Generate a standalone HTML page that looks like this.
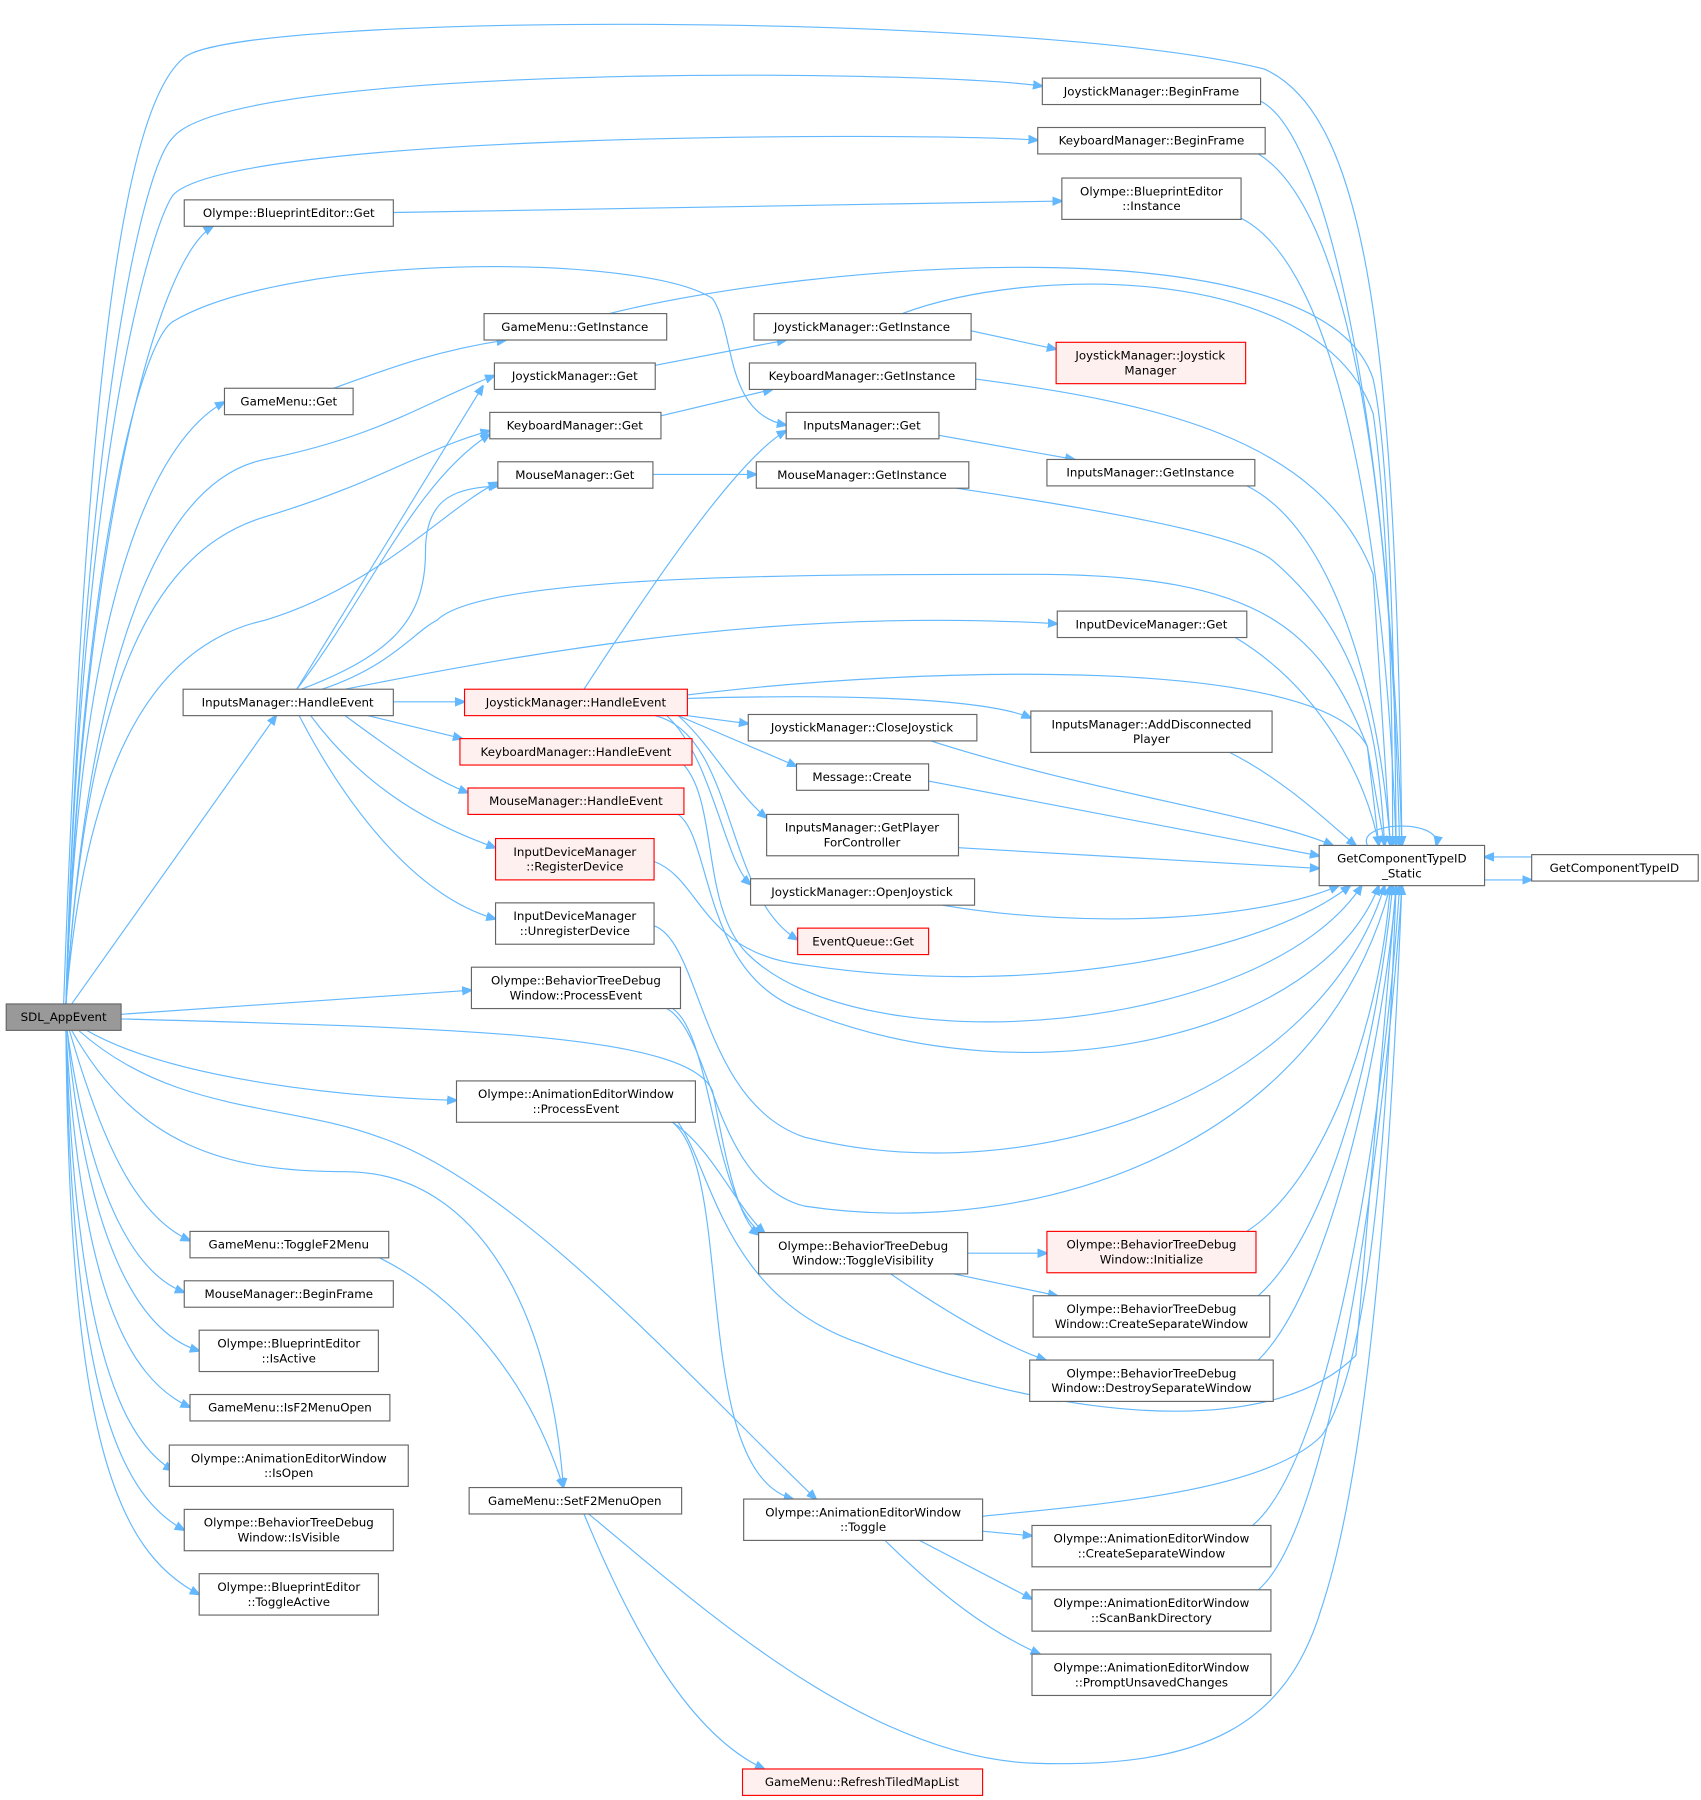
<!DOCTYPE html>
<html><head><meta charset="utf-8"><style>
html,body{margin:0;padding:0;background:#fff;}
svg{display:block;}
text{font-family:"DejaVu Sans","Liberation Sans",sans-serif;font-size:10.3px;fill:#000;text-anchor:middle;}
.n{fill:#fff;stroke:#666;stroke-width:1;}
.r{fill:#fff0f0;stroke:#f00;stroke-width:1;}
.g{fill:#999;stroke:#666;stroke-width:1;}
path{fill:none;stroke:#63b8ff;stroke-width:1;}
</style></head><body>
<svg width="1701" height="1800" viewBox="0 0 1480 1567" xmlns="http://www.w3.org/2000/svg">
<defs><marker id="a" viewBox="0 0 10 10" refX="9" refY="5" markerWidth="9" markerHeight="9" orient="auto" markerUnits="userSpaceOnUse"><path d="M0,1 L10,5 L0,9 z" style="fill:#63b8ff;stroke:#63b8ff"/></marker></defs>
<g marker-end="url(#a)">
<path d="M55,874 C75,300 110,90 160,50 S900,10 1100,60 C1190,100 1215,300 1220,736"/>
<path d="M57,874 C70,400 120,150 150,120 C200,55 800,60 907,75"/>
<path d="M57,874 C70,400 130,200 150,170 C200,115 800,115 903,122"/>
<path d="M57,874 C70,500 130,230 185,197"/>
<path d="M57,874 C70,500 120,300 150,280 C250,220 560,220 620,260 C640,290 630,360 684,370"/>
<path d="M57,874 C70,500 140,380 195,350"/>
<path d="M57,874 C75,600 130,420 230,400 C330,380 370,350 430,327"/>
<path d="M57,874 C75,600 130,480 230,450 C330,420 370,390 426,375"/>
<path d="M57,874 C75,650 140,560 230,540 C330,510 390,440 433,420"/>
<path d="M62,874 L240,623"/>
<path d="M105,883 L410,862"/>
<path d="M105,887 C400,895 600,900 620,950 C630,1000 640,1060 660,1075"/>
<path d="M75,897 C150,940 300,955 397,958"/>
<path d="M68,897 C150,970 250,960 330,990 C450,1030 600,1200 710,1305"/>
<path d="M62,897 C120,1000 200,1020 300,1020 C420,1020 480,1150 490,1295"/>
<path d="M60,897 C90,1000 120,1060 165,1080"/>
<path d="M58,897 C80,1050 120,1110 160,1125"/>
<path d="M58,897 C75,1080 120,1160 173,1176"/>
<path d="M57,897 C70,1120 110,1200 165,1225"/>
<path d="M57,897 C65,1150 100,1250 150,1280"/>
<path d="M57,897 C62,1200 100,1300 160,1332"/>
<path d="M57,897 C60,1250 100,1350 173,1388"/>
<path d="M1097,88 C1160,120 1210,400 1220,736"/>
<path d="M1095,134 C1170,180 1210,400 1218,736"/>
<path d="M342,185 L924,175"/>
<path d="M1080,190 C1160,230 1205,450 1215,736"/>
<path d="M290,338 C340,320 380,305 440,296"/>
<path d="M530,273 C700,230 1150,190 1195,330 C1210,400 1214,600 1215,736"/>
<path d="M570,318 L684,296"/>
<path d="M845,288 L919,304"/>
<path d="M785,273 C900,230 1150,230 1195,360 C1208,450 1212,600 1212,736"/>
<path d="M575,362 L672,339"/>
<path d="M849,330 C1000,350 1150,380 1195,500 L1210,736"/>
<path d="M817,379 L935,400"/>
<path d="M1085,423 C1160,460 1200,600 1210,736"/>
<path d="M568,413 L658,413"/>
<path d="M832,425 C1000,450 1090,470 1110,490 C1190,560 1200,650 1205,736"/>
<path d="M1075,555 C1150,600 1190,680 1200,736"/>
<path d="M258,600 L420,336"/>
<path d="M258,600 C320,520 360,420 426,378"/>
<path d="M262,600 C340,570 370,540 370,480 C370,430 400,425 433,423"/>
<path d="M280,600 C340,580 360,550 380,540 C420,500 700,500 900,500 C1100,500 1150,550 1190,650 L1200,736"/>
<path d="M300,600 C500,560 700,530 920,543"/>
<path d="M342,611 L404,611"/>
<path d="M320,623 L402,643"/>
<path d="M300,623 C350,660 380,680 407,690"/>
<path d="M270,623 C320,690 380,720 431,738"/>
<path d="M260,623 C300,700 360,780 431,800"/>
<path d="M508,600 C560,520 640,400 684,375"/>
<path d="M598,605 C800,580 1150,570 1190,650 L1205,736"/>
<path d="M598,623 L651,630"/>
<path d="M598,608 C700,605 850,605 897,625"/>
<path d="M590,623 L693,667"/>
<path d="M590,623 C620,650 640,690 667,712"/>
<path d="M580,623 C620,660 630,750 653,770"/>
<path d="M570,623 C640,640 630,780 694,818"/>
<path d="M595,666 C625,700 610,790 650,830 C750,930 1100,900 1185,771"/>
<path d="M569,750 C610,765 610,830 700,840 C900,870 1100,830 1175,771"/>
<path d="M590,709 C620,730 610,850 700,880 C900,960 1150,900 1200,771"/>
<path d="M569,806 C610,820 610,960 700,990 C900,1040 1150,950 1205,771"/>
<path d="M580,878 C620,900 620,1030 700,1050 C900,1080 1150,1000 1210,771"/>
<path d="M585,878 C620,900 620,1050 665,1075"/>
<path d="M585,977 C620,1000 640,1050 665,1073"/>
<path d="M585,977 C640,1020 600,1280 690,1305"/>
<path d="M590,977 C620,1020 630,1130 750,1170 C900,1230 1100,1260 1180,1180 L1215,771"/>
<path d="M810,645 C950,690 1100,710 1160,736"/>
<path d="M1070,655 C1120,680 1160,720 1180,736"/>
<path d="M808,680 L1148,745"/>
<path d="M834,738 L1148,756"/>
<path d="M820,788 C950,810 1100,800 1165,771"/>
<path d="M1190,736 C1180,715 1255,712 1250,736"/>
<path d="M1292,766 L1333,766"/>
<path d="M1333,746 L1292,746"/>
<path d="M330,1095 C400,1130 460,1200 490,1295"/>
<path d="M842,1091 L911,1091"/>
<path d="M830,1109 L920,1128"/>
<path d="M775,1109 C820,1140 870,1170 910,1184"/>
<path d="M1085,1072 C1150,1030 1200,900 1210,771"/>
<path d="M1095,1128 C1160,1070 1200,900 1212,771"/>
<path d="M1095,1184 C1160,1120 1205,900 1215,771"/>
<path d="M855,1320 C950,1310 1100,1300 1150,1250 C1200,1180 1210,900 1215,771"/>
<path d="M855,1333 L898,1337"/>
<path d="M800,1341 L898,1392"/>
<path d="M770,1341 C820,1390 860,1420 905,1440"/>
<path d="M1090,1328 C1170,1260 1210,900 1218,771"/>
<path d="M1095,1384 C1170,1320 1212,900 1220,771"/>
<path d="M508,1318 C550,1420 600,1510 665,1540"/>
<path d="M512,1318 C600,1390 750,1530 900,1535 C1050,1540 1120,1500 1150,1400 C1200,1250 1215,900 1220,771"/>
</g>
<rect class="g" x="5" y="874" width="100" height="23"/><text x="55" y="889">SDL_AppEvent</text>
<rect class="n" x="907" y="68" width="190" height="23"/><text x="1002" y="83">JoystickManager::BeginFrame</text>
<rect class="n" x="903" y="111" width="198" height="23"/><text x="1002" y="126">KeyboardManager::BeginFrame</text>
<rect class="n" x="160" y="174" width="182" height="23"/><text x="251" y="189">Olympe::BlueprintEditor::Get</text>
<rect class="n" x="924" y="155" width="156" height="36"/><text x="1002" y="170">Olympe::BlueprintEditor</text><text x="1002" y="183">::Instance</text>
<rect class="n" x="421" y="273" width="159" height="23"/><text x="500" y="288">GameMenu::GetInstance</text>
<rect class="n" x="656" y="273" width="189" height="23"/><text x="750" y="288">JoystickManager::GetInstance</text>
<rect class="r" x="919" y="298" width="165" height="36"/><text x="1001" y="313">JoystickManager::Joystick</text><text x="1001" y="326">Manager</text>
<rect class="n" x="195" y="338" width="112" height="23"/><text x="251" y="353">GameMenu::Get</text>
<rect class="n" x="430" y="316" width="140" height="23"/><text x="500" y="331">JoystickManager::Get</text>
<rect class="n" x="652" y="316" width="197" height="23"/><text x="750" y="331">KeyboardManager::GetInstance</text>
<rect class="n" x="426" y="359" width="149" height="23"/><text x="500" y="374">KeyboardManager::Get</text>
<rect class="n" x="684" y="359" width="133" height="23"/><text x="750" y="374">InputsManager::Get</text>
<rect class="n" x="911" y="400" width="181" height="23"/><text x="1001" y="415">InputsManager::GetInstance</text>
<rect class="n" x="433" y="402" width="135" height="23"/><text x="500" y="417">MouseManager::Get</text>
<rect class="n" x="658" y="402" width="185" height="23"/><text x="750" y="417">MouseManager::GetInstance</text>
<rect class="n" x="920" y="532" width="165" height="23"/><text x="1002" y="547">InputDeviceManager::Get</text>
<rect class="n" x="159" y="600" width="183" height="23"/><text x="250" y="615">InputsManager::HandleEvent</text>
<rect class="r" x="404" y="600" width="194" height="23"/><text x="501" y="615">JoystickManager::HandleEvent</text>
<rect class="n" x="651" y="622" width="199" height="23"/><text x="750" y="637">JoystickManager::CloseJoystick</text>
<rect class="n" x="897" y="619" width="210" height="36"/><text x="1002" y="634">InputsManager::AddDisconnected</text><text x="1002" y="647">Player</text>
<rect class="r" x="400" y="643" width="202" height="23"/><text x="501" y="658">KeyboardManager::HandleEvent</text>
<rect class="n" x="693" y="665" width="115" height="23"/><text x="750" y="680">Message::Create</text>
<rect class="r" x="407" y="686" width="188" height="23"/><text x="501" y="701">MouseManager::HandleEvent</text>
<rect class="n" x="667" y="709" width="167" height="36"/><text x="750" y="724">InputsManager::GetPlayer</text><text x="750" y="737">ForController</text>
<rect class="n" x="1148" y="736" width="144" height="35"/><text x="1220" y="751">GetComponentTypeID</text><text x="1220" y="764">_Static</text>
<rect class="n" x="1333" y="744" width="145" height="23"/><text x="1405" y="759">GetComponentTypeID</text>
<rect class="r" x="431" y="730" width="138" height="36"/><text x="500" y="745">InputDeviceManager</text><text x="500" y="758">::RegisterDevice</text>
<rect class="n" x="653" y="765" width="195" height="23"/><text x="750" y="780">JoystickManager::OpenJoystick</text>
<rect class="n" x="431" y="786" width="138" height="36"/><text x="500" y="801">InputDeviceManager</text><text x="500" y="814">::UnregisterDevice</text>
<rect class="r" x="694" y="808" width="114" height="23"/><text x="751" y="823">EventQueue::Get</text>
<rect class="n" x="410" y="842" width="182" height="36"/><text x="501" y="857">Olympe::BehaviorTreeDebug</text><text x="501" y="870">Window::ProcessEvent</text>
<rect class="n" x="397" y="941" width="208" height="36"/><text x="501" y="956">Olympe::AnimationEditorWindow</text><text x="501" y="969">::ProcessEvent</text>
<rect class="n" x="165" y="1072" width="173" height="23"/><text x="251" y="1087">GameMenu::ToggleF2Menu</text>
<rect class="n" x="660" y="1073" width="182" height="36"/><text x="751" y="1088">Olympe::BehaviorTreeDebug</text><text x="751" y="1101">Window::ToggleVisibility</text>
<rect class="r" x="911" y="1072" width="182" height="36"/><text x="1002" y="1087">Olympe::BehaviorTreeDebug</text><text x="1002" y="1100">Window::Initialize</text>
<rect class="n" x="160" y="1115" width="182" height="23"/><text x="251" y="1130">MouseManager::BeginFrame</text>
<rect class="n" x="899" y="1128" width="206" height="36"/><text x="1002" y="1143">Olympe::BehaviorTreeDebug</text><text x="1002" y="1156">Window::CreateSeparateWindow</text>
<rect class="n" x="173" y="1158" width="156" height="36"/><text x="251" y="1173">Olympe::BlueprintEditor</text><text x="251" y="1186">::IsActive</text>
<rect class="n" x="165" y="1214" width="174" height="23"/><text x="252" y="1229">GameMenu::IsF2MenuOpen</text>
<rect class="n" x="896" y="1184" width="212" height="36"/><text x="1002" y="1199">Olympe::BehaviorTreeDebug</text><text x="1002" y="1212">Window::DestroySeparateWindow</text>
<rect class="n" x="147" y="1258" width="208" height="36"/><text x="251" y="1273">Olympe::AnimationEditorWindow</text><text x="251" y="1286">::IsOpen</text>
<rect class="n" x="408" y="1295" width="185" height="23"/><text x="500" y="1310">GameMenu::SetF2MenuOpen</text>
<rect class="n" x="647" y="1305" width="208" height="36"/><text x="751" y="1320">Olympe::AnimationEditorWindow</text><text x="751" y="1333">::Toggle</text>
<rect class="n" x="898" y="1328" width="208" height="36"/><text x="1002" y="1343">Olympe::AnimationEditorWindow</text><text x="1002" y="1356">::CreateSeparateWindow</text>
<rect class="n" x="160" y="1314" width="182" height="36"/><text x="251" y="1329">Olympe::BehaviorTreeDebug</text><text x="251" y="1342">Window::IsVisible</text>
<rect class="n" x="173" y="1370" width="156" height="36"/><text x="251" y="1385">Olympe::BlueprintEditor</text><text x="251" y="1398">::ToggleActive</text>
<rect class="n" x="898" y="1384" width="208" height="36"/><text x="1002" y="1399">Olympe::AnimationEditorWindow</text><text x="1002" y="1412">::ScanBankDirectory</text>
<rect class="n" x="898" y="1440" width="208" height="36"/><text x="1002" y="1455">Olympe::AnimationEditorWindow</text><text x="1002" y="1468">::PromptUnsavedChanges</text>
<rect class="r" x="646" y="1540" width="209" height="23"/><text x="750" y="1555">GameMenu::RefreshTiledMapList</text>
</svg>
</body></html>
